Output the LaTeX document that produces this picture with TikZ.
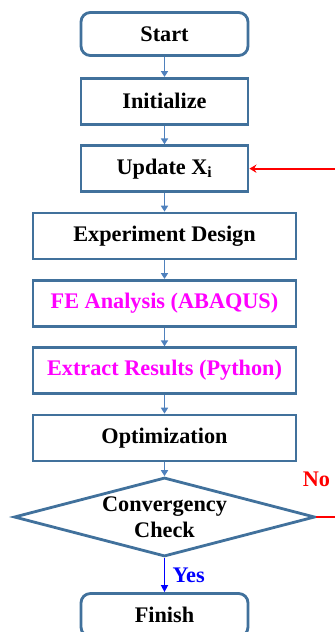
\documentclass[tikz,border=0pt]{standalone}
\usepackage{fontspec}
\setmainfont{Liberation Serif}
\usepackage{tikz}
\usetikzlibrary{arrows.meta, positioning, calc, shapes, shapes.geometric}

\definecolor{boxline}{HTML}{41719C}
\definecolor{flowline}{HTML}{4F81BD}
\definecolor{toolpink}{HTML}{FF00FF}

\begin{document}
\begin{tikzpicture}[node distance=2.02cm, font=\fontsize{19}{22}\selectfont\bfseries]
\useasboundingbox (0,0) rectangle (10.05,-18.96);
\node[draw=boxline, line width=2.4pt, rounded corners=8pt, align=center, minimum width=5.01cm, minimum height=1.29cm] (start) at (4.935,-1.02) {Start};
\node[draw=boxline, line width=2.4pt, align=center, minimum width=5.01cm, minimum height=1.38cm, below of=start] (init) {Initialize};
\node[draw=boxline, line width=2.4pt, align=center, minimum width=5.01cm, minimum height=1.38cm, below of=init] (upd) {Update X\textsubscript{i}};
\node[draw=boxline, line width=2.4pt, align=center, minimum width=7.89cm, minimum height=1.38cm, below of=upd] (exp) {Experiment Design};
\node[draw=boxline, line width=2.4pt, align=center, minimum width=7.89cm, minimum height=1.38cm, below of=exp, text=toolpink] (fea) {FE Analysis (ABAQUS)};
\node[draw=boxline, line width=2.4pt, align=center, minimum width=7.89cm, minimum height=1.38cm, below of=fea, text=toolpink] (ext) {Extract Results (Python)};
\node[draw=boxline, line width=2.4pt, align=center, minimum width=7.89cm, minimum height=1.38cm, below of=ext] (opt) {Optimization};
\node[draw=boxline, line width=2.4pt, diamond, shape aspect=3.8, inner sep=0pt, align=center, minimum width=9.03cm, minimum height=2.37cm, below of=opt, node distance=2.37cm] (chk) {Convergency\\Check};
\node[draw=boxline, line width=2.4pt, rounded corners=8pt, align=center, minimum width=5.01cm, minimum height=1.29cm, below of=chk, node distance=2.94cm] (fin) {Finish};
\node[text=red, inner sep=0pt] (no) at ([yshift=1.14cm]chk.east) {No};
\coordinate[right=1cm of chk.east] (back);
\draw[flowline, line width=1.3pt, -{Triangle[width=6pt, length=5pt]}] (start) -- (init);
\draw[flowline, line width=1.3pt, -{Triangle[width=6pt, length=5pt]}] (init) -- (upd);
\draw[flowline, line width=1.3pt, -{Triangle[width=6pt, length=5pt]}] (upd) -- (exp);
\draw[flowline, line width=1.3pt, -{Triangle[width=6pt, length=5pt]}] (exp) -- (fea);
\draw[flowline, line width=1.3pt, -{Triangle[width=6pt, length=5pt]}] (fea) -- (ext);
\draw[flowline, line width=1.3pt, -{Triangle[width=6pt, length=5pt]}] (ext) -- (opt);
\draw[flowline, line width=1.3pt, -{Triangle[width=6pt, length=5pt]}] (opt) -- (chk);
\draw[blue, line width=1.3pt, -{Triangle[width=6pt, length=6pt]}] (chk) -- node[right=0.22cm, inner sep=0pt] (yes) {Yes} (fin);
\draw[red, line width=1.6pt, -{Stealth[width=7pt, length=6pt]}] (chk.east) -- (back) |- (upd.east);
\end{tikzpicture}
\end{document}
